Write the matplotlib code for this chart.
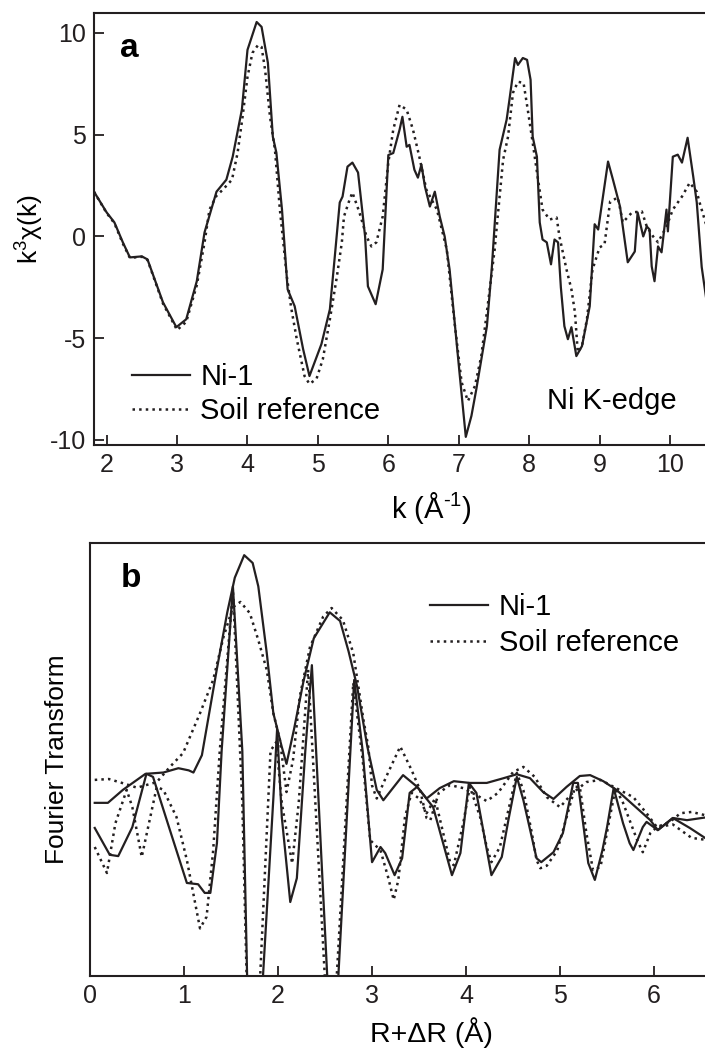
import matplotlib
matplotlib.use('Agg')
import matplotlib.pyplot as plt

plt.rcParams['font.family'] = ['Liberation Sans', 'DejaVu Sans']
plt.rcParams['mathtext.fontset'] = 'custom'
plt.rcParams['mathtext.rm'] = 'Liberation Sans'
plt.rcParams['axes.unicode_minus'] = False

# panel a: k^3 chi(k)
k_ni = [1.82, 2.0, 2.11, 2.23, 2.33, 2.5, 2.58, 2.8, 2.99, 3.13, 3.28, 3.39, 3.56, 3.7,
        3.79, 3.92, 4.0, 4.13, 4.2, 4.29, 4.36, 4.41, 4.49, 4.57, 4.67, 4.79, 4.88, 5.05,
        5.17, 5.24, 5.31, 5.35, 5.42, 5.49, 5.57, 5.67, 5.71, 5.82, 5.92, 6.0, 6.07, 6.16,
        6.2, 6.26, 6.3, 6.37, 6.42, 6.47, 6.52, 6.59, 6.66, 6.73, 6.8, 6.87, 7.01, 7.1,
        7.18, 7.25, 7.4, 7.47, 7.58, 7.68, 7.72, 7.8, 7.84, 7.91, 7.97, 8.02, 8.05, 8.11,
        8.15, 8.19, 8.25, 8.31, 8.36, 8.41, 8.45, 8.5, 8.55, 8.6, 8.67, 8.75, 8.86, 8.93,
        8.98, 9.12, 9.19, 9.29, 9.4, 9.5, 9.54, 9.62, 9.67, 9.71, 9.74, 9.78, 9.83, 9.88,
        9.95, 9.97, 10.04, 10.11, 10.17, 10.25, 10.33, 10.38, 10.45, 10.52]
chi_ni = [2.2, 1.18, 0.69, -0.29, -1.03, -0.98, -1.13, -3.24, -4.46, -4.07, -2.2, 0.2, 2.2, 2.79,
          3.92, 6.23, 9.17, 10.54, 10.3, 8.53, 4.9, 4.12, 1.32, -2.6, -3.43, -5.54, -6.86, -5.29,
          -3.58, -0.98, 1.67, 1.96, 3.43, 3.63, 3.14, 0.0, -2.45, -3.33, -1.62, 4.0, 4.1, 5.25,
          5.88, 4.41, 4.5, 3.28, 2.89, 3.53, 2.45, 1.47, 2.2, 0.98, 0.0, -1.62, -6.67, -9.85,
          -8.82, -7.5, -4.41, -1.52, 4.26, 5.74, 6.72, 8.77, 8.43, 8.77, 8.68, 7.7, 4.9, 3.92,
          0.69, -0.15, -0.29, -1.37, -0.15, -0.29, -2.5, -4.41, -5.05, -4.46, -5.88, -5.39, -3.43, 0.6,
          0.34, 3.68, 2.79, 1.47, -1.27, -0.74, 1.18, 0.0, 0.49, 0.34, -1.47, -2.2, -0.49, -0.78,
          1.32, 0.25, 3.92, 4.02, 3.63, 4.85, 2.94, 1.67, -1.5, -3.2]

k_soil = [1.82, 2.0, 2.11, 2.23, 2.33, 2.5, 2.58, 2.8, 3.0, 3.13, 3.28, 3.39, 3.46, 3.56, 3.65,
          3.78, 3.86, 3.93, 4.0, 4.07, 4.15, 4.2, 4.25, 4.32, 4.39, 4.46, 4.56, 4.62, 4.7, 4.81,
          4.88, 4.98, 5.07, 5.17, 5.27, 5.34, 5.37, 5.45, 5.49, 5.59, 5.69, 5.76, 5.83, 5.92,
          6.0, 6.07, 6.16, 6.26, 6.35, 6.44, 6.54, 6.69, 6.83, 6.94, 7.04, 7.13, 7.23, 7.32,
          7.41, 7.51, 7.54, 7.63, 7.7, 7.77, 7.84, 7.92, 7.98, 8.05, 8.12, 8.19, 8.29, 8.39,
          8.43, 8.53, 8.6, 8.65, 8.69, 8.75, 8.82, 8.9, 9.0, 9.07, 9.15, 9.26, 9.33, 9.46, 9.6,
          9.67, 9.76, 9.83, 9.95, 10.04, 10.17, 10.28, 10.38, 10.42, 10.52]
chi_soil = [2.2, 1.15, 0.65, -0.35, -1.05, -1.0, -1.15, -3.3, -4.6, -4.2, -2.4, -0.3, 1.32, 2.0, 2.3,
            2.79, 4.12, 5.88, 7.84, 9.02, 9.41, 9.31, 8.19, 5.88, 4.26, 1.32, -2.0, -3.5, -5.05, -6.86,
            -7.25, -7.0, -6.03, -4.07, -1.96, -0.29, 0.98, 1.81, 2.16, 1.18, 0.0, -0.49, -0.29, 0.98,
            3.63, 5.25, 6.47, 6.23, 5.25, 3.92, 2.3, 1.32, -0.64, -4.22, -7.16, -8.09, -7.35, -5.88,
            -3.43, -0.64, 0.49, 3.77, 4.9, 7.06, 7.6, 7.55, 6.23, 4.61, 2.94, 1.32, 0.83, 0.93,
            0.0, -1.62, -2.6, -3.73, -5.69, -5.39, -4.07, -1.62, -0.54, -0.39, 1.72, 1.91, 0.69, 1.18, 1.23,
            0.49, 0.0, -0.29, 0.49, 1.32, 1.96, 2.64, 2.2, 1.67, 0.5]

# panel b: Fourier transform (magnitude and imaginary part, arbitrary units)
r_ni_mag = [0.05, 0.19, 0.35, 0.59, 0.78, 0.94, 1.05, 1.1, 1.19, 1.35, 1.46, 1.54, 1.64, 1.73,
            1.79, 1.88, 1.95, 2.04, 2.09, 2.17, 2.27, 2.38, 2.55, 2.66, 2.75, 2.84, 2.95, 3.05,
            3.12, 3.33, 3.48, 3.58, 3.72, 3.87, 4.04, 4.22, 4.4, 4.54, 4.68, 4.82, 4.93, 5.07,
            5.21, 5.32, 5.46, 5.6, 5.78, 5.96, 6.04, 6.2, 6.35, 6.57]
ft_ni_mag = [4.0, 4.0, 4.3, 4.67, 4.7, 4.8, 4.75, 4.7, 5.1, 7.1, 8.4, 9.2, 9.72, 9.54,
             9.0, 7.46, 6.07, 5.29, 4.9, 5.7, 6.8, 7.8, 8.4, 8.2, 7.5, 6.7, 5.3, 4.3,
             4.06, 4.64, 4.37, 4.1, 4.34, 4.5, 4.46, 4.46, 4.57, 4.66, 4.57, 4.25, 4.09, 4.37,
             4.62, 4.64, 4.5, 4.3, 3.95, 3.6, 3.37, 3.65, 3.6, 3.67]

r_ni_im = [0.05, 0.21, 0.3, 0.45, 0.6, 0.67, 0.85, 1.03, 1.15, 1.22, 1.28, 1.35, 1.4, 1.52,
           1.56, 1.62, 1.67, 1.7, 1.78, 1.84, 1.95, 1.99, 2.04, 2.13, 2.2, 2.29, 2.36, 2.58,
           2.81, 2.9, 3.0, 3.09, 3.14, 3.24, 3.32, 3.4, 3.48, 3.65, 3.85, 3.94, 4.03, 4.11,
           4.27, 4.38, 4.45, 4.54, 4.61, 4.75, 4.8, 4.93, 5.03, 5.14, 5.19, 5.3, 5.37, 5.45,
           5.5, 5.57, 5.67, 5.74, 5.78, 5.88, 5.92, 6.04, 6.2, 6.38, 6.57]
ft_ni_im = [3.42, 2.8, 2.77, 3.44, 4.67, 4.6, 3.37, 2.15, 2.12, 1.92, 1.92, 3.07, 5.2, 9.0,
            7.5, 5.2, 0.1, -3.0, -3.0, 0.0, 4.1, 5.7, 3.67, 1.71, 2.26, 5.2, 7.18, -2.5,
            6.84, 5.2, 2.63, 2.98, 2.84, 2.33, 2.72, 4.23, 4.37, 3.9, 2.33, 2.84, 4.46, 4.23,
            2.33, 2.75, 3.6, 4.6, 4.06, 2.72, 2.63, 2.86, 3.3, 4.46, 4.46, 2.61, 2.22, 2.9,
            3.44, 4.34, 3.53, 3.07, 2.91, 3.44, 3.56, 3.37, 3.65, 3.42, 3.15]

r_soil_mag = [0.05, 0.2, 0.34, 0.5, 0.71, 0.85, 0.99, 1.17, 1.31, 1.42, 1.52, 1.6, 1.7, 1.79,
              1.88, 1.95, 2.02, 2.09, 2.16, 2.23, 2.34, 2.48, 2.57, 2.69, 2.8, 2.91, 2.96, 3.0,
              3.05, 3.15, 3.3, 3.42, 3.51, 3.58, 3.62, 3.71, 3.83, 3.97, 4.11, 4.22, 4.34, 4.5,
              4.61, 4.73, 4.86, 5.0, 5.12, 5.28, 5.43, 5.57, 5.78, 5.92, 6.03, 6.17, 6.28, 6.4, 6.57]
ft_soil_mag = [4.53, 4.55, 4.46, 4.35, 4.48, 4.83, 5.15, 6.07, 6.84, 7.83, 8.52, 8.64, 8.38, 7.76,
               7.07, 6.07, 5.45, 4.25, 5.0, 6.44, 7.6, 8.3, 8.5, 8.22, 7.46, 5.9, 5.29, 4.4,
               4.1, 4.6, 5.3, 4.76, 4.3, 3.65, 3.6, 4.23, 4.41, 4.34, 4.18, 4.04, 4.23, 4.71,
               4.83, 4.6, 4.13, 3.9, 4.2, 4.48, 4.53, 4.37, 4.13, 3.76, 3.44, 3.56, 3.76, 3.79, 3.7]

r_soil_im = [0.05, 0.18, 0.27, 0.39, 0.45, 0.55, 0.71, 0.78, 0.92, 1.03, 1.17, 1.24, 1.31, 1.38,
             1.52, 1.56, 1.62, 1.66, 1.7, 1.76, 1.81, 1.92, 1.98, 2.04, 2.15, 2.22, 2.32, 2.56,
             2.8, 2.9, 2.98, 3.09, 3.17, 3.23, 3.28, 3.35, 3.42, 3.5, 3.58, 3.67, 3.83, 3.87,
             3.97, 4.04, 4.15, 4.22, 4.27, 4.36, 4.45, 4.54, 4.61, 4.7, 4.75, 4.79, 4.86, 4.97,
             5.07, 5.16, 5.21, 5.28, 5.35, 5.43, 5.53, 5.59, 5.67, 5.82, 5.88, 5.96, 6.03, 6.2,
             6.4, 6.57]
ft_soil_im = [2.98, 2.38, 3.53, 4.3, 3.9, 2.75, 4.37, 4.3, 3.67, 2.68, 1.1, 1.37, 2.9, 5.2,
              8.9, 7.0, 4.0, 0.5, -3.0, -3.0, 0.0, 5.2, 5.4, 4.0, 2.6, 4.0, 7.07, -2.5,
              6.77, 5.0, 3.14, 2.9, 2.29, 1.76, 2.22, 3.67, 4.23, 4.1, 3.76, 4.1, 2.63, 2.56,
              3.53, 4.37, 3.67, 2.98, 2.63, 2.98, 3.83, 4.69, 4.29, 3.3, 2.68, 2.49, 2.55, 2.9,
              3.67, 4.37, 4.37, 3.3, 2.45, 2.52, 3.67, 4.34, 4.0, 3.14, 2.86, 3.3, 3.44, 3.5,
              3.19, 3.14]

FS_TICK = 18
FS_TEXT = 21
fig = plt.figure(figsize=(7.05, 10.52), dpi=100)

# axes run past the right edge like the cropped original
ax1 = fig.add_axes([0.1333, 0.5770, 0.9589, 0.4106])
ax2 = fig.add_axes([0.1277, 0.0722, 0.9674, 0.4116])

ax1.plot(k_ni, chi_ni, color='#231f20', lw=1.6, label='Ni-1')
ax1.plot(k_soil, chi_soil, color='#231f20', lw=1.8, ls=':', label='Soil reference')
ax1.set_xlim(1.82, 11.42)
ax1.set_ylim(-10.25, 10.98)
ax1.set_xticks([2, 3, 4, 5, 6, 7, 8, 9, 10])
ax1.set_yticks([-10, -5, 0, 5, 10])
ax1.set_xlabel('k (Å$^{\\text{-1}}$)', fontsize=FS_TEXT, labelpad=9)
ax1.set_ylabel('k$^{\\mathregular{3}}$χ(k)', fontsize=19, labelpad=3)
ax1.text(0.053, 0.917, 'a', transform=ax1.transAxes, fontsize=24, fontweight='bold',
         ha='center', va='center')
ax1.text(8.26, -8.09, 'Ni K-edge', fontsize=FS_TEXT, ha='left', va='center')
ax1.legend(loc='upper left', bbox_to_anchor=(0.056, 0.19), frameon=False, fontsize=FS_TEXT,
           handlelength=2.0, handletextpad=0.35, labelspacing=0.2, borderpad=0, borderaxespad=0)

ax2.plot(r_ni_mag, ft_ni_mag, color='#231f20', lw=1.6, label='Ni-1')
ax2.plot(r_soil_mag, ft_soil_mag, color='#231f20', lw=1.8, ls=':', label='Soil reference')
ax2.plot(r_ni_im, ft_ni_im, color='#231f20', lw=1.6)
ax2.plot(r_soil_im, ft_soil_im, color='#231f20', lw=1.8, ls=':')
ax2.set_xlim(0, 7.255)
ax2.set_ylim(0, 10)
ax2.set_xticks([0, 1, 2, 3, 4, 5, 6])
ax2.set_yticks([])
ax2.set_xlabel('R+ΔR (Å)', fontsize=20.5, labelpad=6)
ax2.set_ylabel('Fourier Transform', fontsize=19, labelpad=15)
ax2.text(0.06, 0.919, 'b', transform=ax2.transAxes, fontsize=24, fontweight='bold',
         ha='center', va='center')
ax2.legend(loc='upper left', bbox_to_anchor=(0.4985, 0.885), frameon=False, fontsize=FS_TEXT,
           handlelength=2.0, handletextpad=0.35, labelspacing=0.28, borderpad=0, borderaxespad=0)

for ax in (ax1, ax2):
    for sp in ax.spines.values():
        sp.set_linewidth(1.5)
        sp.set_color('#231f20')
    ax.tick_params(direction='in', length=7, width=1.3, labelsize=FS_TICK, pad=6,
                   colors='#231f20')

fig.savefig('out.png', dpi=100)
